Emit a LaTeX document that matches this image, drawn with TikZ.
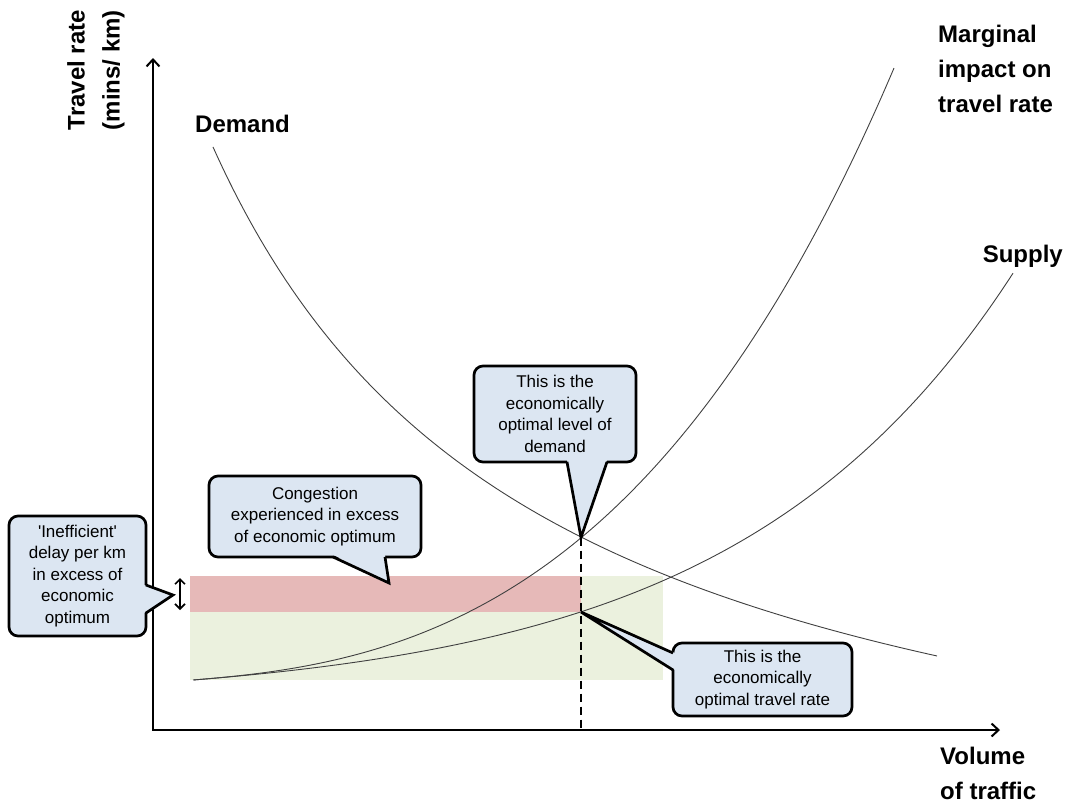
\documentclass[tikz,border=0pt]{standalone}
\usepackage{fontspec}
\setmainfont{Liberation Sans}
\usetikzlibrary{arrows.meta,calc}
\definecolor{calloutblue}{HTML}{DCE6F2}
\definecolor{redband}{HTML}{E6B9B8}
\definecolor{greenband}{HTML}{EBF1DE}
\definecolor{curvegray}{HTML}{404040}
\begin{document}
\begin{tikzpicture}[x=1pt,y=-1pt,
  barb/.tip={Straight Barb[length=7pt,width=13pt,line width=2pt]},
  smallbarb/.tip={Straight Barb[length=5pt,width=10pt,line width=1.6pt]},
  axis/.style={line width=2pt, line join=miter},
  curve/.style={curvegray, line width=0.9pt},
  bubble/.style={draw=black, line width=2.7pt, fill=calloutblue, rounded corners=9pt,
    align=center, inner sep=0pt, font=\fontsize{17}{21.5}\selectfont},
  pointerfill/.style={fill=calloutblue},
  pointerline/.style={draw=black, line width=2.7pt, line join=miter},
  label/.style={font=\bfseries\fontsize{24}{35}\selectfont, inner sep=0pt, align=left},
]
\useasboundingbox (0,0) rectangle (1069,807);

% shaded bands
\fill[greenband] (190,576) rectangle (663,680);
\fill[redband] (190,576) rectangle (581,612);

% key points
\coordinate (O) at (153,730);
\coordinate (ytop) at (153,58);
\coordinate (xend) at (1000,730);
\coordinate (opt) at (581,537.5);
\coordinate (sopt) at (581,612);
\coordinate (da1) at (180,578);
\coordinate (da2) at (180,610);

% demand, supply and marginal curves
\draw[curve] plot[domain=213:937,samples=140] (\x,{890.5-2480.4/((\x+120.6)/100)});
\draw[curve] plot[domain=193:1013,samples=160] (\x,{680-22.4*(exp(0.0036*(\x-193))-1)});
\draw[curve] plot[domain=194:894,samples=160] (\x,{680-22.4*(exp(0.0036*(\x-193))-1)-74*((\x-193)/388)^2.65});

% optimum drop line
\draw[line width=2pt, dash pattern=on 8pt off 5pt] (opt) -- (opt |- O);

% axes
\draw[axis, barb-barb] (ytop) -- (O) -- (xend);

% excess delay marker
\draw[line width=1.6pt, smallbarb-smallbarb] (da1) -- (da2);

% axis and curve labels
\node[label, rotate=90, align=center] (ylab) at (96,70) {Travel rate\\(mins/ km)};
\node[label, anchor=base west] (dem) at (195,132) {Demand};
\node[label, anchor=north west] (marg) at (938,25) {Marginal\\impact on\\travel rate};
\node[label, anchor=base east] (sup) at (1063,262) {Supply};
\node[label, anchor=north west] (vol) at (940,747) {Volume\\of traffic};

% callouts
\node[bubble, minimum width=137pt, minimum height=120pt] (c1) at (77.5,576)
  {\textquotesingle Inefficient\textquotesingle\\delay per km\\in excess of\\economic\\optimum};
\coordinate (t1) at (173,595);
\fill[pointerfill] ($(c1.east)+(-3.5,9)$) -- (t1) -- ($(c1.east)+(-3.5,37)$) -- cycle;
\draw[pointerline] ($(c1.east)+(-1.4,9)$) -- (t1) -- ($(c1.east)+(-1.4,37)$);

\node[bubble, minimum width=212pt, minimum height=81pt] (c2) at (315,516.5)
  {Congestion\\experienced in excess\\of economic optimum};
\coordinate (t2) at (389,583);
\fill[pointerfill] ($(c2.south)+(18,-3.5)$) -- (t2) -- ($(c2.south)+(70,-3.5)$) -- cycle;
\draw[pointerline] ($(c2.south)+(18,-1.4)$) -- (t2) -- ($(c2.south)+(70,-1.4)$);

\node[bubble, minimum width=162pt, minimum height=96pt] (c3) at (555,414)
  {This is the\\economically\\optimal level of\\demand};
\fill[pointerfill] ($(c3.south)+(12,-3.5)$) -- (opt) -- ($(c3.south)+(52,-3.5)$) -- cycle;
\draw[pointerline] ($(c3.south)+(12,-1.4)$) -- (opt) -- ($(c3.south)+(52,-1.4)$);

\node[bubble, minimum width=179pt, minimum height=73pt] (c4) at (762.5,679.5)
  {This is the\\economically\\optimal travel rate};
\fill[pointerfill] ($(c4.west)+(3.5,-26.5)$) -- (sopt) -- ($(c4.west)+(3.5,-9.5)$) -- cycle;
\draw[pointerline] ($(c4.west)+(1.4,-26.5)$) -- (sopt) -- ($(c4.west)+(1.4,-9.5)$);
\end{tikzpicture}
\end{document}
